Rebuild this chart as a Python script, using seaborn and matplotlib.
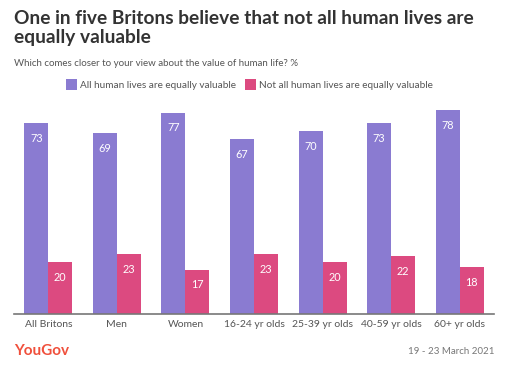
import matplotlib
matplotlib.use("Agg")
import matplotlib.pyplot as plt
import seaborn as sns
import pandas as pd
from matplotlib.patches import Rectangle

categories = ["All Britons", "Men", "Women", "16-24 yr olds", "25-39 yr olds", "40-59 yr olds", "60+ yr olds"]
series_names = ["All human lives are equally valuable", "Not all human lives are equally valuable"]
equal_vals = [73, 69, 77, 67, 70, 73, 78]
not_equal_vals = [20, 23, 17, 23, 20, 22, 18]
colors = ["#8a7bd1", "#dc4a80"]

df = pd.DataFrame({
    "group": categories * 2,
    "series": [series_names[0]] * len(categories) + [series_names[1]] * len(categories),
    "value": equal_vals + not_equal_vals,
})

sns.set_theme(style="white")
plt.rcParams['font.family'] = ['Lato', 'DejaVu Sans']

W, H = 507, 379
fig = plt.figure(figsize=(W / 100, H / 100), dpi=100)
ax_left, ax_right = 14, 494
ax_top, ax_bottom = 104.7, 314
ax = fig.add_axes([ax_left / W, 1 - ax_bottom / H, (ax_right - ax_left) / W, (ax_bottom - ax_top) / H])

sns.barplot(data=df, x="group", y="value", hue="series", palette=colors,
            width=0.7, saturation=1, ax=ax, legend=False, gap=0,
            linewidth=0, edgecolor="none")

ax.set_xlim(-0.5, len(categories) - 0.5)
ax.set_ylim(0, 80)
ax.set_xlabel("")
ax.set_ylabel("")
ax.set_yticks([])
for s in ["top", "right", "left"]:
    ax.spines[s].set_visible(False)
ax.spines["bottom"].set_color("#777777")
ax.spines["bottom"].set_linewidth(1.2)
ax.tick_params(axis="x", length=0, pad=4, labelsize=7.5, labelcolor="#555555")

for container in ax.containers:
    ax.bar_label(container, padding=-15, color="white", fontsize=7.8)

# Title and subtitle
fig.text(14 / W, 1 - 10 / H, "One in five Britons believe that not all human lives are\nequally valuable",
         ha="left", va="top", fontsize=13.8, fontweight="bold", color="#333333", linespacing=1.12)
fig.text(14 / W, 1 - 63 / H, "Which comes closer to your view about the value of human life? %",
         ha="left", va="center", fontsize=7, color="#555555")

# Legend
leg_y = 85
items = [(66, series_names[0], colors[0]), (245, series_names[1], colors[1])]
for x0, label, c in items:
    fig.patches.append(Rectangle((x0 / W, 1 - (leg_y + 5) / H), 11 / W, 11 / H,
                                 transform=fig.transFigure, facecolor=c, edgecolor="none"))
    fig.text((x0 + 14) / W, 1 - leg_y / H, label, ha="left", va="center", fontsize=7.2, color="#555555")

# Footer
fig.text(14 / W, 1 - 351 / H, "YouGov", ha="left", va="center", fontsize=11, fontweight="bold", color="#f0503c")
fig.text(494 / W, 1 - 351 / H, "19 - 23 March 2021", ha="right", va="center", fontsize=7, color="#777777")

fig.savefig("out.png", dpi=100, facecolor="white")
